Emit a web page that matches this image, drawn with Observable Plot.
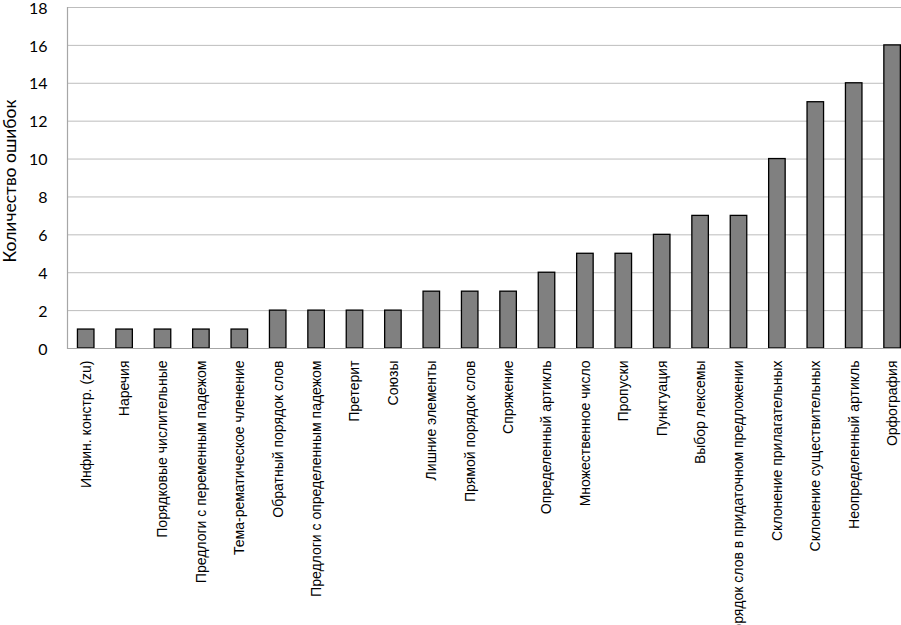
<!DOCTYPE html>
<html>
<head>
<meta charset="utf-8">
<script src="https://cdn.jsdelivr.net/npm/d3@7"></script>
<script src="https://cdn.jsdelivr.net/npm/@observablehq/plot@0.6"></script>
<style>
  html, body { margin: 0; padding: 0; background: #fff; }
  #chart svg { display: block; overflow: visible; }
</style>
</head>
<body>
<div id="chart"></div>
<script>
const categories = [
  "Инфин. констр. (zu)",
  "Наречия",
  "Порядковые числительные",
  "Предлоги с переменным падежом",
  "Тема-рематическое членение",
  "Обратный порядок слов",
  "Предлоги с определенным падежом",
  "Претерит",
  "Союзы",
  "Лишние элементы",
  "Прямой порядок слов",
  "Спряжение",
  "Определенный артикль",
  "Множественное число",
  "Пропуски",
  "Пунктуация",
  "Выбор лексемы",
  "Порядок слов в придаточном предложении",
  "Склонение прилагательных",
  "Склонение существительных",
  "Неопределенный артикль",
  "Орфография"
];
const values = [1, 1, 1, 1, 1, 2, 2, 2, 2, 3, 3, 3, 4, 5, 5, 6, 7, 7, 10, 13, 14, 16];
const yTicks = [0, 2, 4, 6, 8, 10, 12, 14, 16, 18];
const yLabel = "Количество ошибок";

const data = categories.map((c, i) => ({category: c, value: values[i]}));

const chart = Plot.plot({
  width: 901,
  height: 625,
  marginLeft: 67,
  marginTop: 7,
  marginBottom: 277,
  marginRight: 0,
  style: {fontFamily: "Liberation Sans, Arial, sans-serif", background: "#fff"},
  x: {domain: categories, range: [66.5, 911.3], paddingInner: 0.57, paddingOuter: 0.285, align: 0.5, round: false},
  y: {domain: [0, 18], range: [348, 7]},
  marks: [
    Plot.ruleY(yTicks.filter(d => d > 0), {stroke: "#bdbdbd", strokeWidth: 1}),
    Plot.barY(data, {x: "category", y: "value", fill: "#808080", stroke: "#000", strokeWidth: 1.3}),
    Plot.ruleY([0], {stroke: "#a6a6a6", strokeWidth: 1.2}),
    Plot.frame({anchor: "left", stroke: "#a6a6a6", strokeWidth: 1.2}),
    Plot.axisY({
      ticks: yTicks, tickSize: 0, tickPadding: 20, label: null, dy: 1,
      fontSize: 16, fill: "#000", fontFamily: "Lato, Open Sans, sans-serif"
    }),
    Plot.axisX({
      tickSize: 0, tickRotate: -90, tickPadding: 12, label: null,
      fontSize: 14, fill: "#000"
    }),
    Plot.text([yLabel], {
      frameAnchor: "left", textAnchor: "middle", dx: -57, dy: 3, rotate: -90, text: d => d,
      fontSize: 17.5, fill: "#000", fontFamily: "Lato, Open Sans, sans-serif"
    })
  ]
});
document.getElementById("chart").appendChild(chart);
</script>
</body>
</html>
